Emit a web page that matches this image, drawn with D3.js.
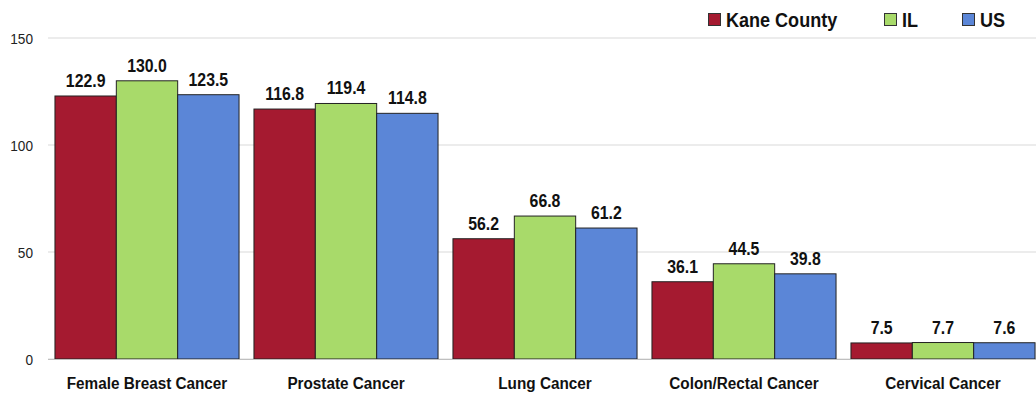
<!DOCTYPE html>
<html><head><meta charset="utf-8">
<script src="https://cdn.jsdelivr.net/npm/d3@7"></script>
<style>body{margin:0;background:#fff}svg{display:block}</style>
</head><body>
<script>
const categories = ["Female Breast Cancer","Prostate Cancer","Lung Cancer","Colon/Rectal Cancer","Cervical Cancer"];
const seriesNames = ["Kane County","IL","US"];
const kane = [122.9,116.8,56.2,36.1,7.5];
const il = [130.0,119.4,66.8,44.5,7.7];
const us = [123.5,114.8,61.2,39.8,7.6];
const yTicks = [0,50,100,150];
const colors = ["#A51A30","#A8DA6A","#5B86D7"];

const W=1036,H=394;
const SX=0.88;
const svg=d3.select("body").append("svg").attr("width",W).attr("height",H);
const x0=d3.scaleBand().domain(categories).range([47.5,1042.5]).paddingInner(0.075).paddingOuter(0.0375);
const x1=d3.scaleBand().domain(seriesNames).range([0,x0.bandwidth()]);
const y=d3.scaleLinear().domain([0,150]).range([359,38]);
const font="Liberation Sans, Arial, sans-serif";

svg.append("g").selectAll("line").data(yTicks).join("line")
 .attr("x1",48).attr("x2",W).attr("y1",d=>y(d)).attr("y2",d=>y(d))
 .attr("stroke","#d9d9d9").attr("stroke-width",1);
const ya=svg.append("g").attr("transform","translate(33,0)").call(d3.axisLeft(y).tickValues(yTicks).tickSize(0).tickPadding(0));
ya.select(".domain").remove();
ya.selectAll("text").attr("font-family",font).attr("font-size",15.5).attr("fill","#222").attr("dy","0.36em").attr("transform",`scale(${SX},1)`);

const data=[kane,il,us];
const grp=svg.selectAll("g.cat").data(categories).join("g").attr("class","cat").attr("transform",d=>`translate(${x0(d)},0)`);
const items=(c,i)=>seriesNames.map((s,j)=>({s,v:data[j][i],j}));
grp.selectAll("rect").data(items).join("rect")
 .attr("x",d=>x1(d.s)).attr("width",x1.bandwidth()).attr("y",d=>y(d.v)).attr("height",d=>y(0)-y(d.v))
 .attr("fill",d=>colors[d.j]).attr("stroke","#222").attr("stroke-width",1);
grp.selectAll("text").data(items).join("text")
 .attr("transform",d=>`translate(${x1(d.s)+x1.bandwidth()/2},${y(d.v)-9}) scale(${SX},1)`)
 .attr("text-anchor","middle")
 .attr("font-family",font).attr("font-weight","bold").attr("font-size",18).attr("fill","#111")
 .text(d=>d.v.toFixed(1));

const xa=svg.append("g").attr("transform","translate(0,359)").call(d3.axisBottom(x0).tickSize(0).tickPadding(0));
xa.select(".domain").attr("stroke","#bfbfbf").attr("d","M48,0.5H1036");
xa.selectAll("text").attr("y",30).attr("dy",0).attr("font-family",font).attr("font-weight","bold").attr("font-size",17).attr("fill","#111").attr("transform",`scale(0.9,1)`);

const legX=[708,884,962];
const lg=svg.selectAll("g.leg").data(seriesNames).join("g").attr("class","leg").attr("transform",(d,i)=>`translate(${legX[i]},0)`);
lg.append("rect").attr("x",0.5).attr("y",13.5).attr("width",12).attr("height",12).attr("fill",(d,i)=>colors[i]).attr("stroke","#333");
lg.append("text").attr("transform",`translate(18,27) scale(${SX},1)`).attr("font-family",font).attr("font-weight","bold").attr("font-size",20.5).attr("fill","#111").text(d=>d);
</script>
</body></html>
